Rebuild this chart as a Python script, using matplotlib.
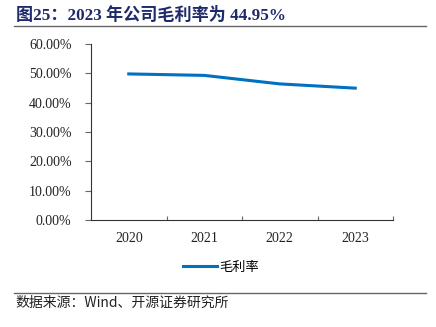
import matplotlib.pyplot as plt
from matplotlib.lines import Line2D
from matplotlib.ticker import FuncFormatter

years = ["2020", "2021", "2022", "2023"]
gross_margin = [49.8, 49.3, 46.4, 44.95]

serif = ["Liberation Serif", "Noto Sans CJK SC"]
cjk = ["Noto Sans CJK SC", "DejaVu Sans"]

fig = plt.figure(figsize=(4.36, 3.27), dpi=100)
ax = fig.add_axes([91 / 436, 1 - 220 / 327, 302 / 436, 176 / 327])

x = range(len(years))
ax.plot(x, gross_margin, color="#0070C0", linewidth=2.2, label="毛利率")

ax.set_xlim(-0.5, len(years) - 0.5)
ax.set_ylim(0, 60)
ax.set_yticks(range(0, 61, 10))
ax.yaxis.set_major_formatter(FuncFormatter(lambda v, p: f"{v:.2f}%"))
ax.set_xticks(list(x))
ax.set_xticklabels(years)
ax.set_xticks([i + 0.5 for i in range(len(years))], minor=True)

for s in ["top", "right"]:
    ax.spines[s].set_visible(False)
for s in ["left", "bottom"]:
    ax.spines[s].set_color("#333333")
    ax.spines[s].set_linewidth(0.8)

ax.tick_params(axis="y", direction="out", length=4, width=0.8, color="#666666", pad=10)
ax.tick_params(axis="x", which="major", length=0, pad=9)
ax.tick_params(axis="x", which="minor", direction="in", length=3, width=0.8, color="#666666")
for lab in ax.get_yticklabels() + ax.get_xticklabels():
    lab.set_family(serif)
    lab.set_fontsize(10)
    lab.set_color("#222222")

leg = ax.legend(loc="center", bbox_to_anchor=(0.43, -0.27), frameon=False,
                prop={"family": cjk, "size": 9.5}, handlelength=2.6, handletextpad=0.2)

# title and rules
fig.text(16 / 436, 1 - 15 / 327, "图25：2023 年公司毛利率为 44.95%", family=["Liberation Serif", "Noto Sans CJK SC"],
         fontsize=12.3, fontweight="bold", color="#1F2A6B", va="center", ha="left")
fig.add_artist(Line2D([14 / 436, 426 / 436], [1 - 26 / 327] * 2, color="#666666", linewidth=1))
fig.add_artist(Line2D([14 / 436, 426 / 436], [1 - 293 / 327] * 2, color="#666666", linewidth=1))
fig.text(15 / 436, 1 - 303 / 327, "数据来源：Wind、开源证券研究所", family=["Noto Sans CJK SC", "Liberation Serif"],
         fontsize=10, color="#222222", va="center", ha="left")

fig.savefig("out.png", dpi=100)
